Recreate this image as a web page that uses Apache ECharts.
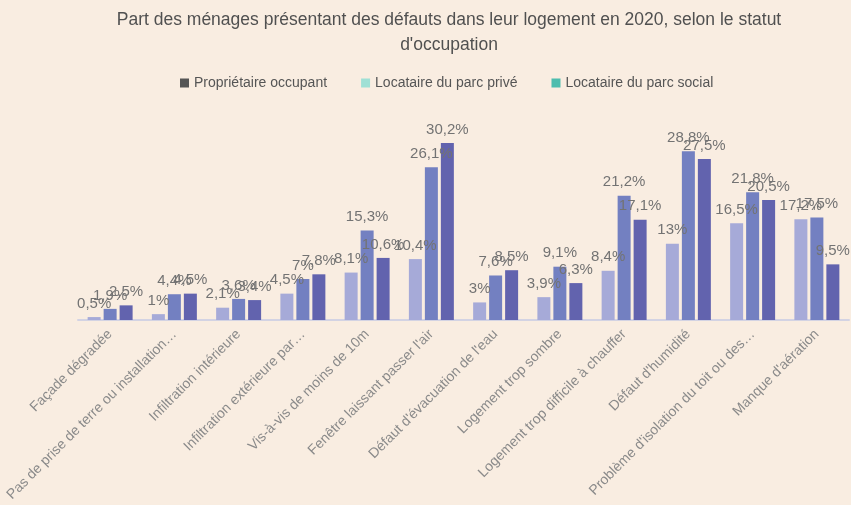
<!DOCTYPE html>
<html>
<head>
<meta charset="utf-8">
<script src="https://cdn.jsdelivr.net/npm/echarts@6/dist/echarts.min.js"></script>
<style>
  html, body { margin: 0; padding: 0; background: #f9ede1; }
  #chart { width: 851px; height: 505px; }
</style>
</head>
<body>
<div id="chart"></div>
<script>
// catégories (libellés tronqués comme dans l'original)
const categories = [
  "Façade dégradée",
  "Pas de prise de terre ou installation…",
  "Infiltration intérieure",
  "Infiltration extérieure par…",
  "Vis-à-vis de moins de 10m",
  "Fenêtre laissant passer l'air",
  "Défaut d'évacuation de l'eau",
  "Logement trop sombre",
  "Logement trop difficile à chauffer",
  "Défaut d'humidité",
  "Problème d'isolation du toit ou des…",
  "Manque d'aération",
];

const seriesNames = ["Propriétaire occupant", "Locataire du parc privé", "Locataire du parc social"];

// valeurs en %
const proprietaire = [0.5, 1, 2.1, 4.5, 8.1, 10.4, 3, 3.9, 8.4, 13, 16.5, 17.2];
const locPrive = [1.9, 4.4, 3.6, 7, 15.3, 26.1, 7.6, 9.1, 21.2, 28.8, 21.8, 17.5];
const locSocial = [2.5, 4.5, 3.4, 7.8, 10.6, 30.2, 8.5, 6.3, 17.1, 27.5, 20.5, 9.5];

const FONT = "'Liberation Sans', Arial, sans-serif";
const barColors = ["#a6aad8", "#7380c1", "#6263ae"];
const legendColors = ["#555555", "#9fe0d5", "#4dbdae"];

const fmt = (v) => String(v).replace(".", ",") + "%";

const chart = echarts.init(document.getElementById("chart"));

const mkSeries = (name, data, i) => ({
  name,
  type: "bar",
  data,
  barWidth: 13,
  barGap: "23%",
  itemStyle: { color: barColors[i] },
  label: {
    show: true,
    position: "top",
    distance: 6,
    color: "#737373",
    fontFamily: FONT,
    fontSize: 15,
    formatter: (p) => fmt(p.value),
  },
});

chart.setOption({
  backgroundColor: "#f9ede1",
  textStyle: { fontFamily: FONT },
  title: {
    text: "Part des ménages présentant des défauts dans leur logement en 2020, selon le statut\nd'occupation",
    left: 444,
    textAlign: "center",
    top: 3,
    textStyle: { fontFamily: FONT, fontSize: 17.5, fontWeight: "normal", color: "#505050", lineHeight: 25, align: "center" },
  },
  legend: {
    top: 71,
    left: 175,
    itemWidth: 9,
    itemHeight: 9,
    itemGap: 34,
    icon: "rect",
    textStyle: { fontFamily: FONT, fontSize: 14, color: "#555" },
    data: seriesNames.map((n, i) => ({ name: n, itemStyle: { color: legendColors[i] } })),
  },
  grid: { left: 78, right: 2, top: 115, bottom: 185, outerBoundsMode: "none" },
  xAxis: {
    type: "category",
    data: categories,
    axisLine: { lineStyle: { color: "#d3d3e3", width: 2 } },
    axisTick: { show: false },
    axisLabel: {
      interval: 0,
      rotate: 45,
      color: "#8a8a8a",
      fontFamily: FONT,
      fontSize: 14,
      margin: 12,
    },
  },
  yAxis: {
    type: "value",
    min: 0,
    max: 35,
    show: false,
    splitLine: { show: false },
  },
  series: [
    mkSeries(seriesNames[0], proprietaire, 0),
    mkSeries(seriesNames[1], locPrive, 1),
    mkSeries(seriesNames[2], locSocial, 2),
  ],
});
</script>
</body>
</html>
